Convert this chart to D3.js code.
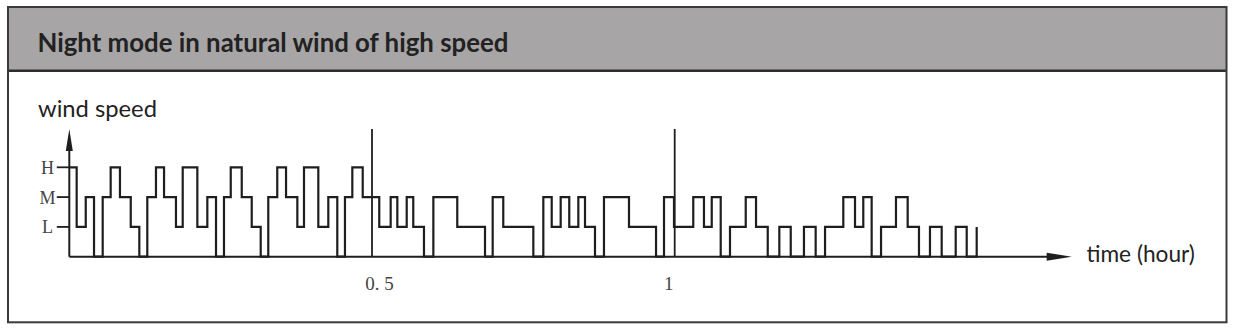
<!DOCTYPE html>
<html>
<head>
<meta charset="utf-8">
<script src="https://cdn.jsdelivr.net/npm/d3@7"></script>
<style>
  html, body { margin: 0; padding: 0; background: #fff; }
  svg { display: block; }
</style>
</head>
<body>
<div id="chart"></div>
<script>
// Chart texts
const titleText = "Night mode in natural wind of high speed";
const yLabel = "wind speed";
const xLabel = "time (hour)";

// Speed levels (0 = fan off)
const levelNames = ["L", "M", "H"];
const levelValues = [1, 2, 3];

// Time marks on the x axis (minutes) and their labels
const tickMinutes = [30, 60];
const tickLabels = ["0. 5", "1"];

// Step changes: minute at which the speed switches, and the new level
const switchMinutes = [
    0, 0.73, 1.63, 2.45, 3.31, 4.10, 5.02, 6.09, 6.94, 7.73,
    8.59, 9.39, 10.57, 11.24, 12.69, 13.68, 14.54, 15.33, 16.00, 17.09,
    18.08, 18.97, 19.72, 20.61, 21.48, 22.60, 23.26, 24.68, 25.67, 26.56,
    27.32, 28.05, 29.08, 30.72, 31.85, 32.51, 33.44, 34.09, 35.15, 36.08,
    38.45, 41.20, 41.96, 43.01, 45.99, 46.98, 47.81, 48.70, 49.55, 50.45,
    51.11, 52.10, 52.99, 55.47, 58.15, 58.94, 59.93, 61.84, 62.90, 63.67,
    64.56, 65.48, 67.04, 68.06, 69.22, 70.37, 71.50, 72.81, 73.97, 74.90,
    76.71, 77.87, 78.69, 79.52, 80.45, 81.93, 83.09, 84.21, 85.30, 86.46,
    87.85, 88.94, 89.93
];
const switchLevels = [
    3, 1, 2, 0, 2, 3, 2, 1, 0, 2,
    3, 2, 1, 3, 1, 2, 0, 2, 3, 2,
    1, 0, 2, 3, 2, 1, 3, 1, 2, 0,
    2, 3, 2, 1, 2, 1, 2, 1, 0, 2,
    1, 0, 2, 1, 0, 2, 1, 2, 1, 2,
    1, 0, 2, 1, 0, 2, 1, 2, 1, 2,
    0, 1, 2, 1, 0, 1, 0, 1, 0, 1,
    2, 1, 2, 0, 1, 2, 1, 0, 1, 0,
    1, 0, 1
];

const W = 1233, H = 329;
let svg = d3.select("#chart").append("svg")
    .attr("width", W)
    .attr("height", H);

// Fit a text node to the width it has in the reference
function fitWidth(sel, size, target) {
    sel.style("font-size", size + "px");
    let len = sel.node().getComputedTextLength();
    sel.style("font-size", (size * target / len) + "px");
}

// Frame with grey header
svg.append("rect")
    .attr("x", 8).attr("y", 7)
    .attr("width", 1218.5).attr("height", 63.5)
    .attr("fill", "#a7a5a6");
svg.append("line")
    .attr("x1", 8).attr("x2", 1226.5)
    .attr("y1", 70.7).attr("y2", 70.7)
    .attr("stroke", "#2e2e2e").attr("stroke-width", 2.5);
svg.append("rect")
    .attr("x", 8).attr("y", 7)
    .attr("width", 1218.5).attr("height", 315.3)
    .attr("fill", "none")
    .attr("stroke", "#3a3a3a").attr("stroke-width", 2);

// Title
let title = svg.append("text")
    .attr("x", 37.5).attr("y", 51.7)
    .style("font-family", "Lato, 'Open Sans', sans-serif")
    .style("font-weight", 700)
    .attr("fill", "#222")
    .text(titleText);
fitWidth(title, 22, 471);

// Scales
let x = d3.scaleLinear().domain([0, 60]).range([69.3, 674.7]);
let y = d3.scaleLinear().domain([0, 3]).range([256.7, 167.3]);
let axisTop = 129;
let axisEnd = 1071.7;

let ink = "#1e1e1e";

// Axis lines
svg.append("line")
    .attr("x1", x(0)).attr("x2", axisEnd - 10)
    .attr("y1", y(0)).attr("y2", y(0))
    .attr("stroke", ink).attr("stroke-width", 2);
svg.append("line")
    .attr("x1", x(0)).attr("x2", x(0))
    .attr("y1", y(0)).attr("y2", axisTop + 10)
    .attr("stroke", ink).attr("stroke-width", 2);

// Arrowheads
svg.append("path")
    .attr("d", `M ${axisEnd},${y(0)} L ${axisEnd - 25},${y(0) - 4} L ${axisEnd - 25},${y(0) + 4} Z`)
    .attr("fill", ink);
svg.append("path")
    .attr("d", `M ${x(0)},${axisTop} L ${x(0) - 3.5},${axisTop + 22} L ${x(0) + 3.5},${axisTop + 22} Z`)
    .attr("fill", ink);

// Level ticks and labels on the y axis
levelValues.forEach((v, i) => {
    svg.append("line")
        .attr("x1", x(0) - 12.5).attr("x2", x(0))
        .attr("y1", y(v)).attr("y2", y(v))
        .attr("stroke", ink).attr("stroke-width", 1.8);
    svg.append("text")
        .attr("x", 47.5)
        .attr("y", y(v) + 6.5)
        .attr("text-anchor", "middle")
        .style("font-family", "'Liberation Serif', serif")
        .style("font-size", "18px")
        .attr("fill", "#444")
        .text(levelNames[i]);
});

// Time marks: tall vertical lines with labels below
tickMinutes.forEach((m, i) => {
    svg.append("line")
        .attr("x1", x(m)).attr("x2", x(m))
        .attr("y1", y(0)).attr("y2", axisTop)
        .attr("stroke", ink).attr("stroke-width", 1.8);
    svg.append("text")
        .attr("x", x(m) + (i === 0 ? 7.5 : -6))
        .attr("y", 289.5)
        .attr("text-anchor", "middle")
        .style("font-family", "'Liberation Serif', serif")
        .style("font-size", "19px")
        .attr("fill", "#444")
        .text(tickLabels[i]);
});

// Wind speed steps
let points = switchMinutes.map((m, i) => [m, switchLevels[i]]);
let line = d3.line()
    .x(d => x(d[0]))
    .y(d => y(d[1]))
    .curve(d3.curveStepAfter);
svg.append("path")
    .attr("d", line(points))
    .attr("fill", "none")
    .attr("stroke", ink)
    .attr("stroke-width", 2.2)
    .attr("stroke-linejoin", "miter");

// Axis titles
let yTitle = svg.append("text")
    .attr("x", 38).attr("y", 116.5)
    .style("font-family", "Lato, 'Open Sans', sans-serif")
    .attr("fill", "#222")
    .text(yLabel);
fitWidth(yTitle, 21, 119);

let xTitle = svg.append("text")
    .attr("x", 1086.5).attr("y", 261.5)
    .style("font-family", "Lato, 'Open Sans', sans-serif")
    .attr("fill", "#222")
    .text(xLabel);
fitWidth(xTitle, 21, 108.5);
</script>
</body>
</html>
